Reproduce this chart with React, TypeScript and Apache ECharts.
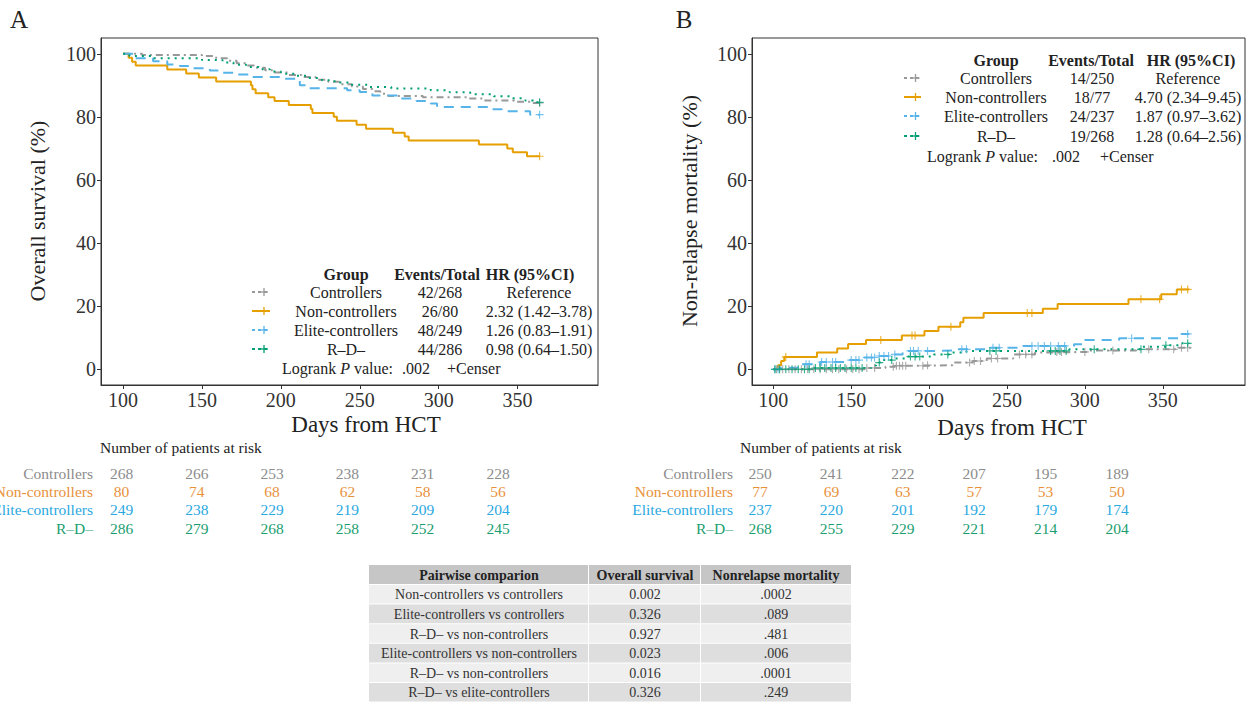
import React, { useEffect, useRef } from 'react';
import * as echarts from 'echarts';

const FONT = '"Liberation Serif", "DejaVu Serif", serif';

const groups = ['Controllers', 'Non-controllers', 'Elite-controllers', 'R–D–'];
const lineColors = ['#999999', '#E69F00', '#56B4E9', '#009E73'];
const textColors = ['#8c8c8c', '#E8913A', '#2AA8E0', '#1A9E70'];
const dashTypes: any[] = [[7, 4, 2, 4], 'solid', [10, 7], [2, 5]];

// Panel A: overall survival (%) step points [day, %]
const osControllers = [[100, 100], [112, 99.6], [150, 99.3], [159, 98.6], [166, 97.8], [172, 97.0], [178, 96.3], [183, 95.6], [190, 94.8], [196, 94.1], [205, 93.3], [213, 92.6], [222, 91.8], [230, 91.1], [237, 90.3], [245, 89.6], [252, 88.8], [258, 88.1], [263, 87.3], [268, 86.6], [290, 86.2], [318, 85.8], [328, 85.2], [348, 84.8], [358, 84.4], [364, 84.4]];
const osNonControllers = [[100, 100], [103.5, 98.75], [105.7, 97.5], [108, 96.25], [128, 95], [140, 93.75], [148, 92.5], [159, 91.25], [181, 90], [182, 88.75], [184, 87.5], [192, 86.25], [196, 85], [205, 83.75], [219, 82.5], [220, 81.25], [233.5, 80], [235.5, 78.75], [248, 77.5], [254, 76.25], [271, 75], [278.5, 73.75], [281, 72.5], [325.5, 71.25], [343.5, 70], [347, 68.75], [356, 67.5], [364, 67.5]];
const osElite = [[100, 100], [107, 98.6], [119, 97.6], [128, 96.6], [136, 96.1], [144, 95.4], [155, 94.7], [162, 94.0], [170, 93.4], [180, 92.6], [200, 92.1], [212, 90.0], [216, 89.1], [242, 88.4], [250, 87.9], [258, 86.8], [276, 85.8], [286, 85.0], [295, 84.2], [299, 83.1], [332, 82.4], [340, 81.8], [358, 80.7], [364, 80.7]];
const osRD = [[100, 100], [104, 99.3], [118, 98.6], [150, 98.0], [163, 97.2], [170, 96.5], [178, 95.8], [186, 95.1], [193, 94.4], [200, 93.7], [210, 93.0], [218, 92.3], [226, 91.6], [234, 90.9], [245, 90.2], [255, 89.5], [270, 89.0], [295, 88.4], [307, 87.8], [320, 87.2], [335, 86.5], [345, 85.9], [355, 85.2], [360, 84.6], [364, 84.6]];
const osCensor = [[364], [364], [364], [364]];

// Panel B: non-relapse mortality (%) step points [day, %]
const nrmControllers = [[100, 0], [160, 0.4], [172, 0.8], [178, 1.1], [199, 1.3], [215, 2.1], [228, 2.6], [237, 3.4], [254, 4.7], [268, 5.3], [280, 5.5], [303, 5.9], [333, 6.3], [360, 6.8], [368, 6.8]];
const nrmNonControllers = [[100, 0], [103, 1.3], [105, 2.6], [107, 3.9], [128, 5.3], [141, 6.6], [148, 8.0], [159.5, 9.3], [182.5, 10.7], [197, 12.1], [206, 13.5], [220, 14.9], [222, 16.3], [235, 17.8], [273, 19.2], [282.5, 20.7], [328, 22.2], [349, 23.8], [359, 25.3], [367, 25.3]];
const nrmElite = [[100, 0], [104, 0.5], [117, 1.6], [130, 2.3], [147, 2.9], [156, 3.7], [168, 4.2], [177, 4.7], [183, 5.8], [205, 6.0], [218, 6.3], [238, 6.8], [260, 7.4], [293, 7.9], [300, 9.3], [322, 9.8], [362, 11.2], [367, 11.2]];
const nrmRD = [[100, 0], [125, 0.4], [163, 1.2], [166, 2.1], [170, 2.9], [177, 3.4], [186, 4.0], [203, 4.7], [215, 5.3], [224, 5.8], [290, 6.3], [337, 7.1], [352, 7.6], [362, 8.2], [367, 8.2]];
const nrmCensorControllers = [102, 106, 110, 114, 118, 122, 126, 130, 134, 138, 142, 147, 151, 155, 160, 165, 177, 179, 181, 183, 185, 196, 199, 226, 229, 233, 240, 244, 258, 262, 266, 282, 285, 300, 318, 341, 357, 362, 366];
const nrmCensorNon = [108, 169, 189, 191, 214, 263, 266, 336, 348, 362, 366];
const nrmCensorElite = [101, 103, 121, 123, 131, 134, 138, 140, 150, 153, 155, 160, 163, 165, 168, 171, 174, 178, 188, 190, 193, 199, 221, 224, 241, 245, 266, 270, 274, 278, 283, 287, 330, 366];
const nrmCensorRD = [101, 104, 108, 112, 116, 120, 123, 127, 130, 133, 137, 140, 143, 146, 150, 153, 157, 168, 176, 188, 191, 194, 212, 239, 243, 278, 281, 284, 288, 306, 336, 352, 366];

const xTicks = [100, 150, 200, 250, 300, 350];
const yTicks = [0, 20, 40, 60, 80, 100];

const osEvents = ['42/268', '26/80', '48/249', '44/286'];
const osHR = ['Reference', '2.32 (1.42–3.78)', '1.26 (0.83–1.91)', '0.98 (0.64–1.50)'];
const nrmEvents = ['14/250', '18/77', '24/237', '19/268'];
const nrmHR = ['Reference', '4.70 (2.34–9.45)', '1.87 (0.97–3.62)', '1.28 (0.64–2.56)'];
const logrankP = ['.002', '.002'];

const riskOS = [[268, 266, 253, 238, 231, 228], [80, 74, 68, 62, 58, 56], [249, 238, 229, 219, 209, 204], [286, 279, 268, 258, 252, 245]];
const riskNRM = [[250, 241, 222, 207, 195, 189], [77, 69, 63, 57, 53, 50], [237, 220, 201, 192, 179, 174], [268, 255, 229, 221, 214, 204]];

const tableHeader = ['Pairwise comparion', 'Overall survival', 'Nonrelapse mortality'];
const pairs = ['Non-controllers vs controllers', 'Elite-controllers vs controllers', 'R–D– vs non-controllers', 'Elite-controllers vs non-controllers', 'R–D– vs non-controllers', 'R–D– vs elite-controllers'];
const pOS = ['0.002', '0.326', '0.927', '0.023', '0.016', '0.326'];
const pNRM = ['.0002', '.089', '.481', '.006', '.0001', '.249'];

const CROSS = 'path://M-1 -0.14 H1 V0.14 H-1 Z M-0.14 -1 H0.14 V1 H-0.14 Z';

function valueAt(steps: number[][], d: number) {
  let v = steps[0][1];
  for (const p of steps) if (p[0] <= d) v = p[1];
  return v;
}

function txt(text: string, x: number, y: number, o: any = {}) {
  return {
    type: 'text', x, y, rotation: o.rotation || 0, silent: true,
    style: {
      text, fill: o.fill || '#222', fontSize: o.size || 16, fontFamily: FONT,
      fontWeight: o.bold ? 'bold' : 'normal', fontStyle: o.italic ? 'italic' : 'normal',
      align: o.align || 'center', verticalAlign: 'middle', rich: o.rich,
    },
  };
}

function legendBlock(cfg: any, events: string[], hr: string[], p: string) {
  const g: any[] = [];
  g.push(txt('Group', cfg.groupX, cfg.headY, { bold: true }));
  g.push(txt('Events/Total', cfg.evHeadX, cfg.headY, { bold: true }));
  g.push(txt('HR (95%CI)', cfg.hrHeadX, cfg.headY, { bold: true }));
  groups.forEach((name, i) => {
    const y = cfg.rows[i];
    const dash = dashTypes[i];
    g.push({ type: 'line', silent: true, shape: { x1: cfg.keyX0, y1: y, x2: cfg.keyX1, y2: y }, style: { stroke: lineColors[i], lineWidth: 2, lineDash: Array.isArray(dash) ? [3, 3] : null } });
    const cx = (cfg.keyX0 + cfg.keyX1) / 2 + 3;
    g.push({ type: 'line', silent: true, shape: { x1: cx, y1: y - 4, x2: cx, y2: y + 4 }, style: { stroke: lineColors[i], lineWidth: 1.3 } });
    g.push({ type: 'line', silent: true, shape: { x1: cx - 4, y1: y, x2: cx + 4, y2: y }, style: { stroke: lineColors[i], lineWidth: 1.3 } });
    g.push(txt(name, cfg.groupX, y));
    g.push(txt(events[i], cfg.evX, y));
    g.push(txt(hr[i], cfg.hrX, y));
  });
  g.push(txt('{a|Logrank }{b|P}{a| value:}', cfg.lrX, cfg.lrY, {
    align: 'left',
    rich: { a: { fontSize: 16, fontFamily: FONT, fill: '#222' }, b: { fontSize: 16, fontFamily: FONT, fontStyle: 'italic', fill: '#222' } },
  }));
  g.push(txt(p, cfg.pX, cfg.lrY, { align: 'left' }));
  g.push(txt('+Censer', cfg.cX, cfg.lrY, { align: 'left' }));
  return g;
}

function riskBlock(cfg: any, risk: number[][]) {
  const g: any[] = [];
  g.push(txt('Number of patients at risk', cfg.titleX, cfg.titleY, { align: 'left', size: 15.5 }));
  groups.forEach((name, i) => {
    const y = cfg.rows[i];
    g.push(txt(name, cfg.labelX, y, { align: 'right', fill: textColors[i], size: 15.5 }));
    risk[i].forEach((n, j) => {
      g.push(txt(String(n), cfg.x0 + j * cfg.step, y, { fill: textColors[i], size: 15.5 }));
    });
  });
  return g;
}

function tableBlock() {
  const g: any[] = [];
  const cols = [369, 589, 701, 852];
  const top = 565, headH = 20, rowH = 19.6;
  const colCenters = [479, 645, 776];
  for (let c = 0; c < 3; c++) {
    g.push({ type: 'rect', silent: true, shape: { x: cols[c], y: top, width: cols[c + 1] - cols[c] - 1, height: headH - 1 }, style: { fill: '#c6c6c6' } });
    g.push(txt(tableHeader[c], colCenters[c], top + headH / 2, { bold: true, size: 14 }));
  }
  pairs.forEach((pr, r) => {
    const y = top + headH + r * rowH;
    const fill = r % 2 === 0 ? '#efefef' : '#dedede';
    const vals = [pr, pOS[r], pNRM[r]];
    for (let c = 0; c < 3; c++) {
      g.push({ type: 'rect', silent: true, shape: { x: cols[c], y, width: cols[c + 1] - cols[c] - 1, height: rowH - 1 }, style: { fill } });
      g.push(txt(vals[c], colCenters[c], y + rowH / 2, { size: 14, fill: '#333' }));
    }
  });
  return g;
}

function stepSeries(data: number[][], i: number, axis: number) {
  return {
    type: 'line', step: 'end', xAxisIndex: axis, yAxisIndex: axis, data,
    showSymbol: false, silent: true, z: 3,
    lineStyle: { color: lineColors[i], width: 2, type: dashTypes[i] },
  };
}

function censorSeries(days: number[], steps: number[][], i: number, axis: number) {
  return {
    type: 'scatter', xAxisIndex: axis, yAxisIndex: axis, silent: true, z: 4,
    symbol: CROSS, symbolSize: 8,
    itemStyle: { color: lineColors[i] },
    data: days.map((d) => [d, valueAt(steps, d)]),
  };
}

function axisPair(xmin: number, xmax: number) {
  const common = {
    axisLine: { show: true, onZero: false, lineStyle: { color: '#333', width: 1 } },
    axisTick: { show: true, length: 4, lineStyle: { color: '#333' } },
    splitLine: { show: false },
  };
  return {
    x: {
      type: 'value', min: xmin, max: xmax, ...common,
      axisTick: { ...common.axisTick, customValues: xTicks },
      axisLabel: { customValues: xTicks, color: '#333', fontSize: 20, fontFamily: FONT, margin: 5 },
    },
    y: {
      type: 'value', min: -5, max: 105, ...common,
      axisTick: { ...common.axisTick, customValues: yTicks },
      axisLabel: { customValues: yTicks, color: '#333', fontSize: 20, fontFamily: FONT, margin: 5 },
    },
  };
}

export default function App() {
  const ref = useRef<HTMLDivElement>(null);
  useEffect(() => {
    if (!ref.current) return;
    const chart = echarts.init(ref.current, null, { renderer: 'svg' });
    const a = axisPair(86, 401);
    const b = axisPair(86.3, 402.8);
    const osSteps = [osControllers, osNonControllers, osElite, osRD];
    const nrmSteps = [nrmControllers, nrmNonControllers, nrmElite, nrmRD];
    const nrmCensors = [nrmCensorControllers, nrmCensorNon, nrmCensorElite, nrmCensorRD];

    const series: any[] = [];
    osSteps.forEach((s, i) => series.push(stepSeries(s, i, 0)));
    osSteps.forEach((s, i) => series.push(censorSeries(osCensor[i], s, i, 0)));
    nrmSteps.forEach((s, i) => series.push(stepSeries(s, i, 1)));
    nrmSteps.forEach((s, i) => series.push(censorSeries(nrmCensors[i], s, i, 1)));

    const graphic: any[] = [
      txt('A', 19, 19, { size: 25, fill: '#222' }),
      txt('B', 684, 19, { size: 25, fill: '#222' }),
      txt('Overall survival (%)', 37, 211, { size: 22, rotation: Math.PI / 2 }),
      txt('Non-relapse mortality (%)', 689, 211, { size: 22, rotation: Math.PI / 2 }),
      txt('Days from HCT', 366, 424, { size: 23 }),
      txt('Days from HCT', 1012, 427, { size: 23 }),
      ...legendBlock({ groupX: 346, evHeadX: 437, hrHeadX: 530, evX: 440, hrX: 539, headY: 274, rows: [292, 311, 330, 349], keyX0: 252, keyX1: 270, lrX: 282, lrY: 368, pX: 402, cX: 447 }, osEvents, osHR, logrankP[0]),
      ...legendBlock({ groupX: 996, evHeadX: 1091, hrHeadX: 1191, evX: 1092, hrX: 1188, headY: 60, rows: [78, 97, 116, 136], keyX0: 904, keyX1: 921, lrX: 927, lrY: 156, pX: 1052, cX: 1100 }, nrmEvents, nrmHR, logrankP[1]),
      ...riskBlock({ titleX: 100, titleY: 447, labelX: 93, x0: 121.5, step: 75.3, rows: [473, 491.5, 509.5, 528] }, riskOS),
      ...riskBlock({ titleX: 740, titleY: 447, labelX: 733, x0: 760, step: 71.4, rows: [473, 491.5, 509.5, 528] }, riskNRM),
      ...tableBlock(),
    ];

    chart.setOption({
      animation: false,
      backgroundColor: '#ffffff',
      textStyle: { fontFamily: FONT },
      grid: [
        { left: 101, top: 38, width: 497, height: 347, show: true, borderColor: '#333', borderWidth: 1, backgroundColor: 'transparent', containLabel: false, outerBoundsMode: 'none' },
        { left: 752, top: 38, width: 493, height: 347, show: true, borderColor: '#333', borderWidth: 1, backgroundColor: 'transparent', containLabel: false, outerBoundsMode: 'none' },
      ],
      xAxis: [{ ...a.x, gridIndex: 0 }, { ...b.x, gridIndex: 1 }],
      yAxis: [{ ...a.y, gridIndex: 0 }, { ...b.y, gridIndex: 1 }],
      series,
      graphic,
    });
    return () => chart.dispose();
  }, []);
  return <div ref={ref} style={{ position: 'absolute', left: 0, top: 0, width: 1248, height: 703 }} />;
}
